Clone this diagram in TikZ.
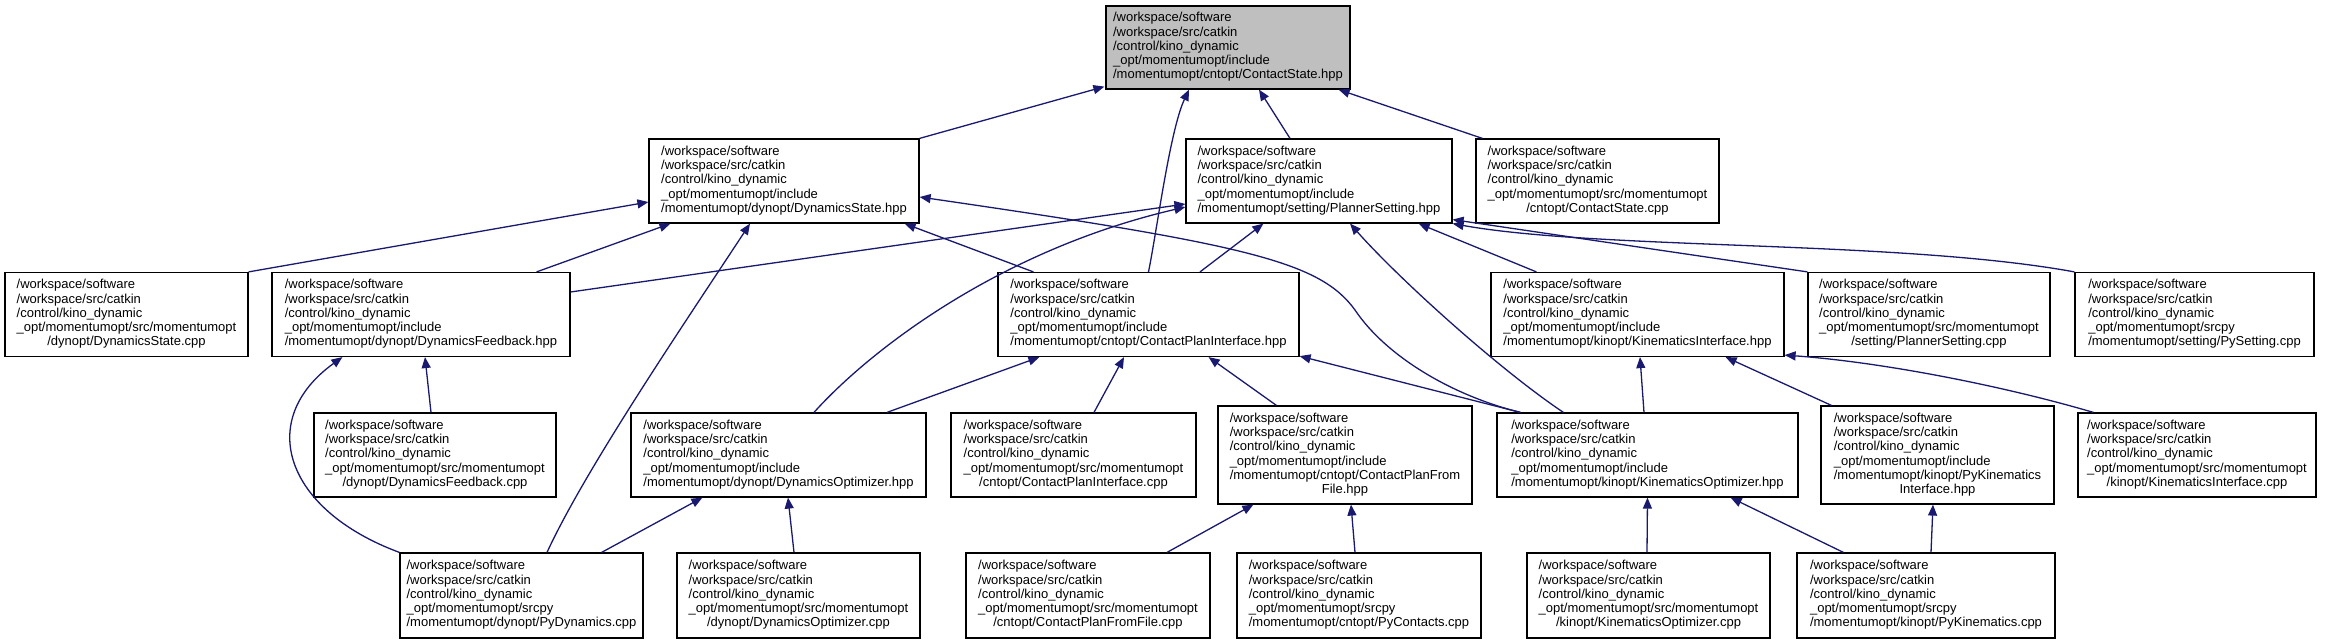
\documentclass[tikz,border=0pt]{standalone}
\usepackage{fontspec}
\setmainfont{Liberation Sans}
\usetikzlibrary{arrows.meta,calc}
\definecolor{edgeblue}{RGB}{25,25,112}
\definecolor{rootgray}{RGB}{191,191,191}
\newcommand{\hdr}{/workspace/software\\/workspace/src/catkin\\/control/kino\_dynamic\\}
\newcommand{\pinc}{\hdr\_opt/momentumopt/include}
\newcommand{\psrc}{\hdr\_opt/momentumopt/src/momentumopt}
\newcommand{\ppy}{\hdr\_opt/momentumopt/srcpy}
\newcommand{\lbl}[2]{\begin{tabular}{@{}l@{}}#1\\\multicolumn{1}{@{}c@{}}{#2}\end{tabular}}
\begin{document}
\begin{tikzpicture}[x=1pt,y=-1pt,
  fbox/.style={draw=black, line width=1.2pt, fill=white, inner sep=0pt,
    minimum width=#1, minimum height=84pt,
    font=\fontsize{13}{14.3}\selectfont},
  tall/.style={minimum height=98pt},
  e/.style={draw=edgeblue, line width=1.3pt, -{Triangle[length=11pt,width=9pt]}}]
\fill[white] (0,0) rectangle (2327,644);
\useasboundingbox (0,0) rectangle (2327,644);
% row 1
\node[fbox=244pt, fill=rootgray, minimum height=83pt] (CSh) at (1228,47.5) {\lbl{\pinc}{/momentumopt/cntopt/ContactState.hpp}};
% row 2
\node[fbox=270pt] (DSh) at (784,181) {\lbl{\pinc}{/momentumopt/dynopt/DynamicsState.hpp}};
\node[fbox=266pt] (PSh) at (1319,181) {\lbl{\pinc}{/momentumopt/setting/PlannerSetting.hpp}};
\node[fbox=243pt] (CSc) at (1597.5,181) {\lbl{\psrc}{/cntopt/ContactState.cpp}};
% row 3
\node[fbox=243pt] (DSc) at (126.5,314.5) {\lbl{\psrc}{/dynopt/DynamicsState.cpp}};
\node[fbox=298pt] (DFh) at (421,314.5) {\lbl{\pinc}{/momentumopt/dynopt/DynamicsFeedback.hpp}};
\node[fbox=301pt] (CPIh) at (1148.5,314.5) {\lbl{\pinc}{/momentumopt/cntopt/ContactPlanInterface.hpp}};
\node[fbox=293pt] (KIh) at (1637.5,314.5) {\lbl{\pinc}{/momentumopt/kinopt/KinematicsInterface.hpp}};
\node[fbox=242pt] (PSc) at (1929,314.5) {\lbl{\psrc}{/setting/PlannerSetting.cpp}};
\node[fbox=239pt] (PySet) at (2194.5,314.5) {\lbl{\ppy}{/momentumopt/setting/PySetting.cpp}};
% row 4
\node[fbox=242pt] (DFc) at (435,455) {\lbl{\psrc}{/dynopt/DynamicsFeedback.cpp}};
\node[fbox=295pt] (DOh) at (778.5,455) {\lbl{\pinc}{/momentumopt/dynopt/DynamicsOptimizer.hpp}};
\node[fbox=245pt] (CPIc) at (1073.5,455) {\lbl{\psrc}{/cntopt/ContactPlanInterface.cpp}};
\node[fbox=254pt, tall] (CPFFh) at (1345,455) {\lbl{\pinc\\/momentumopt/cntopt/ContactPlanFrom}{File.hpp}};
\node[fbox=301pt] (KOh) at (1647.5,455) {\lbl{\pinc}{/momentumopt/kinopt/KinematicsOptimizer.hpp}};
\node[fbox=233pt, tall] (PyKIh) at (1937.5,455) {\lbl{\pinc\\/momentumopt/kinopt/PyKinematics}{Interface.hpp}};
\node[fbox=238pt] (KIc) at (2197,455) {\lbl{\psrc}{/kinopt/KinematicsInterface.cpp}};
% row 5
\node[fbox=243pt, minimum height=85pt] (PyDyn) at (521.5,595.5) {\lbl{\ppy}{/momentumopt/dynopt/PyDynamics.cpp}};
\node[fbox=243pt, minimum height=85pt] (DOc) at (798.5,595.5) {\lbl{\psrc}{/dynopt/DynamicsOptimizer.cpp}};
\node[fbox=244pt, minimum height=85pt] (CPFFc) at (1088,595.5) {\lbl{\psrc}{/cntopt/ContactPlanFromFile.cpp}};
\node[fbox=244pt, minimum height=85pt] (PyCont) at (1359,595.5) {\lbl{\ppy}{/momentumopt/cntopt/PyContacts.cpp}};
\node[fbox=243pt, minimum height=85pt] (KOc) at (1648.5,595.5) {\lbl{\psrc}{/kinopt/KinematicsOptimizer.cpp}};
\node[fbox=258pt, minimum height=85pt] (PyKin) at (1926,595.5) {\lbl{\ppy}{/momentumopt/kinopt/PyKinematics.cpp}};
% edges to root
\draw[e] (DSh.north east) -- ($(CSh.south west)+(-1,-3)$);
\draw[e] ($(PSh.north)+(-29,0)$) -- ($(CSh.south)+(31,0)$);
\draw[e] ($(CSc.north west)+(7,0)$) -- ($(CSh.south east)+(-12,0)$);
\draw[e] (CPIh.north) .. controls (1157,230) and (1170,130) .. ($(CSh.south)+(-39,0)$);
% edges to DynamicsState.hpp
\draw[e] (DSc.north east) -- ($(DSh.west)+(0,21)$);
\draw[e] ($(DFh.north east)+(-34,0)$) -- ($(DSh.south west)+(22,0)$);
\draw[e] ($(PyDyn.north)+(25.5,0)$) .. controls (585,470) and (680,330) .. ($(DSh.south)+(-34,0)$);
\draw[e] ($(CPIh.north west)+(36,0)$) -- ($(DSh.south east)+(-15,0)$);
\draw[e] ($(KOh.north west)+(24,0)$) .. controls (1450,395) and (1385,355) .. (1355,310)
  .. controls (1320,262) and (1250,245) .. ($(DSh.east)+(0,16)$);
% edges to PlannerSetting.hpp
\draw[e] ($(DFh.east)+(0,-22.5)$) -- ($(PSh.west)+(0,23)$);
\draw[e] ($(DOh.north)+(35.5,0)$) .. controls (870,350) and (1000,250) .. ($(PSh.west)+(0,26)$);
\draw[e] ($(CPIh.north)+(51.5,0)$) -- ($(PSh.south west)+(78,0)$);
\draw[e] ($(KOh.north west)+(67,0)$) .. controls (1500,370) and (1400,280) .. ($(PSh.south)+(31,0)$);
\draw[e] ($(KIh.north west)+(46,0)$) -- ($(PSh.south east)+(-34,0)$);
\draw[e] (PSc.north west) -- ($(PSh.south east)+(0,-4)$);
\draw[e] (PySet.north west) .. controls (1900,240) and (1600,250) .. ($(PSh.south east)+(0,0)$);
% edges to ContactPlanInterface.hpp
\draw[e] ($(DOh.north)+(108.5,0)$) -- ($(CPIh.south west)+(42,0)$);
\draw[e] ($(CPIc.north)+(20.5,0)$) -- ($(CPIh.south)+(-24.5,0)$);
\draw[e] ($(CPFFh.north west)+(59,0)$) -- ($(CPIh.south east)+(-91,0)$);
\draw[e] ($(KOh.north west)+(24,0)$) -- ($(CPIh.south east)+(0,-1)$);
% edges to KinematicsInterface.hpp
\draw[e] ($(KOh.north)+(-3.5,0)$) -- ($(KIh.south)+(2.5,0)$);
\draw[e] ($(PyKIh.north west)+(11,0)$) -- ($(KIh.south east)+(-59,0)$);
\draw[e] ($(KIc.north west)+(16,0)$) .. controls (2000,385) and (1880,362) .. ($(KIh.south east)+(0,-2)$);
% edges to DynamicsFeedback.hpp
\draw[e] ($(DFc.north)+(-4,0)$) -- ($(DFh.south)+(4,0)$);
\draw[e] (PyDyn.north west) .. controls (285,510) and (255,420) .. ($(DFh.south west)+(71,0)$);
% edges to DynamicsOptimizer.hpp
\draw[e] ($(PyDyn.north east)+(-42,0)$) -- ($(DOh.south west)+(72,0)$);
\draw[e] ($(DOc.north)+(-4.5,0)$) -- ($(DOh.south)+(9.5,0)$);
% edges to ContactPlanFromFile.hpp
\draw[e] ($(CPFFc.north)+(79,0)$) -- ($(CPFFh.south west)+(36,0)$);
\draw[e] ($(PyCont.north)+(-4,0)$) -- ($(CPFFh.south)+(6,0)$);
% edges to KinematicsOptimizer.hpp
\draw[e] ($(KOc.north)+(-1.5,0)$) -- (KOh.south);
\draw[e] ($(PyKin.north west)+(47,0)$) -- ($(KOh.south east)+(-68,0)$);
% edge to PyKinematicsInterface.hpp
\draw[e] ($(PyKin.north)+(5,0)$) -- ($(PyKIh.south)+(-4.5,0)$);
\end{tikzpicture}
\end{document}
